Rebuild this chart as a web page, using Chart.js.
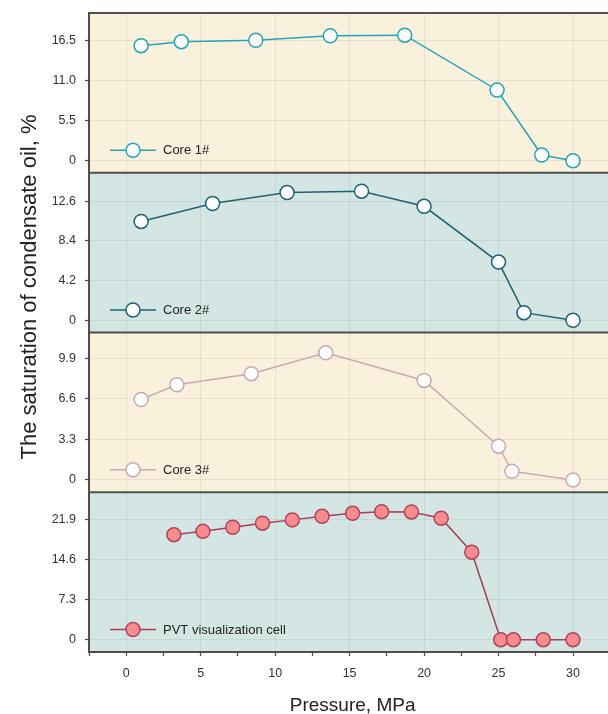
<!DOCTYPE html>
<html>
<head>
<meta charset="utf-8">
<title>Condensate oil saturation vs pressure</title>
<script src="https://cdn.jsdelivr.net/npm/chart.js@4.4.1/dist/chart.umd.min.js"></script>
<style>
  html, body { margin: 0; padding: 0; background: #ffffff; }
  #wrap { width: 608px; height: 714px; position: relative; }
</style>
</head>
<body>
<div id="wrap"><canvas id="chart"></canvas></div>
<script>
// Pressure (MPa) and condensate oil saturation (%) for each sample
const core1Pressure = [1.0, 3.7, 8.7, 13.7, 18.7, 24.9, 27.9, 30.0];
const core1Saturation = [15.85, 16.4, 16.6, 17.2, 17.3, 9.75, 0.8, 0.0];

const core2Pressure = [1.0, 5.8, 10.8, 15.8, 20.0, 25.0, 26.7, 30.0];
const core2Saturation = [10.45, 12.35, 13.5, 13.65, 12.05, 6.15, 0.8, 0.0];

const core3Pressure = [1.0, 3.4, 8.4, 13.4, 20.0, 25.0, 25.9, 30.0];
const core3Saturation = [6.55, 7.75, 8.65, 10.35, 8.1, 2.75, 0.7, 0.0];

const pvtPressure = [3.2, 5.15, 7.15, 9.15, 11.15, 13.15, 15.2, 17.15, 19.15, 21.15, 23.2, 25.15, 26.0, 28.0, 30.0];
const pvtSaturation = [19.2, 19.8, 20.55, 21.3, 21.9, 22.55, 23.1, 23.4, 23.35, 22.2, 16.0, 0.0, 0.0, 0.0, 0.0];

const seriesNames = ['Core 1#', 'Core 2#', 'Core 3#', 'PVT visualization cell'];

// Axis ticks (majors are labelled, the in-between values are minor tick marks)
const pressureTicks = [-2.5, 0, 2.5, 5, 7.5, 10, 12.5, 15, 17.5, 20, 22.5, 25, 27.5, 30];
const core1Ticks = [0, 2.75, 5.5, 8.25, 11.0, 13.75, 16.5, 19.25];
const core2Ticks = [0, 2.1, 4.2, 6.3, 8.4, 10.5, 12.6, 14.7];
const core3Ticks = [0, 1.65, 3.3, 4.95, 6.6, 8.25, 9.9, 11.55];
const pvtTicks = [0, 3.65, 7.3, 10.95, 14.6, 18.25, 21.9, 25.55];
const core1Step = 5.5, core2Step = 4.2, core3Step = 3.3, pvtStep = 7.3;

const FONT = "'Liberation Sans', Arial, sans-serif";
const AXIS_DARK = '#554b47';
const GRID_LIGHT = 'rgba(120, 110, 90, 0.13)';

function toPoints(xs, ys) {
  return xs.map((x, i) => ({ x: x, y: ys[i] }));
}

function isMajor(v, step) {
  const r = v / step;
  return Math.abs(r - Math.round(r)) < 1e-6;
}

function panelScale(ticks, step, min, max, weight, bg) {
  return {
    type: 'linear',
    position: 'left',
    stack: 'panels',
    stackWeight: 1,
    weight: weight,
    min: min,
    max: max,
    panelBackground: bg,
    afterBuildTicks: (scale) => { scale.ticks = ticks.map(v => ({ value: v })); },
    afterFit: (scale) => {
      scale.width = 89;
      scale.paddingTop = 0;
      scale.paddingBottom = 0;
    },
    border: { display: true, color: AXIS_DARK, width: 2 },
    grid: {
      drawTicks: true,
      tickLength: 4,
      tickWidth: 1.2,
      tickColor: AXIS_DARK,
      lineWidth: 1,
      color: (ctx) => (ctx.tick && isMajor(ctx.tick.value, step)) ? GRID_LIGHT : 'rgba(0,0,0,0)'
    },
    ticks: {
      padding: 9,
      color: '#333333',
      font: { family: FONT, size: 12.5 },
      callback: (v) => isMajor(v, step) ? (v === 0 ? '0' : Number(v).toFixed(1)) : ''
    }
  };
}

// Backgrounds behind each panel, separators between them, legends and axis titles
const panelPlugin = {
  id: 'panels',
  beforeDraw(chart) {
    const { ctx, chartArea } = chart;
    ctx.save();
    ['y1', 'y2', 'y3', 'y4'].forEach(id => {
      const s = chart.scales[id];
      ctx.fillStyle = s.options.panelBackground;
      ctx.fillRect(chartArea.left, s.top, chartArea.right - chartArea.left, s.bottom - s.top);
    });
    ctx.restore();
  },
  beforeDatasetsDraw(chart) {
    const { ctx, chartArea } = chart;
    ctx.save();
    ctx.strokeStyle = '#4f4f4f';
    ctx.lineWidth = 2;
    ['y1', 'y2', 'y3', 'y4'].forEach(id => {
      const s = chart.scales[id];
      ctx.beginPath();
      ctx.moveTo(chartArea.left, s.top);
      ctx.lineTo(chartArea.right, s.top);
      ctx.stroke();
    });
    ctx.restore();
  },
  afterDatasetsDraw(chart) {
    const { ctx, chartArea } = chart;
    ctx.save();
    chart.data.datasets.forEach(ds => {
      const s = chart.scales[ds.yAxisID];
      const y = s.bottom - 22.5;
      const x0 = chartArea.left + 21;
      ctx.strokeStyle = ds.borderColor;
      ctx.lineWidth = ds.borderWidth;
      ctx.beginPath();
      ctx.moveTo(x0, y);
      ctx.lineTo(x0 + 46, y);
      ctx.stroke();
      ctx.beginPath();
      ctx.arc(x0 + 23, y, ds.pointRadius, 0, Math.PI * 2);
      ctx.fillStyle = ds.pointBackgroundColor;
      ctx.fill();
      ctx.lineWidth = ds.pointBorderWidth;
      ctx.strokeStyle = ds.pointBorderColor;
      ctx.stroke();
      ctx.fillStyle = '#222222';
      ctx.font = '13px ' + FONT;
      ctx.textAlign = 'left';
      ctx.textBaseline = 'middle';
      ctx.fillText(ds.label, x0 + 53, y + 0.5);
    });
    ctx.restore();
  },
  afterDraw(chart) {
    const { ctx } = chart;
    const xs = chart.scales.x;
    ctx.save();
    ctx.fillStyle = '#222222';
    ctx.textAlign = 'center';
    ctx.textBaseline = 'middle';
    ctx.font = '19px ' + FONT;
    ctx.fillText('Pressure, MPa', (xs.getPixelForValue(0) + xs.getPixelForValue(30)) / 2 + 3, 706);
    ctx.translate(30, 287);
    ctx.rotate(-Math.PI / 2);
    ctx.font = '22px ' + FONT;
    ctx.fillText('The saturation of condensate oil, %', 0, 0);
    ctx.restore();
  }
};

function lineSeries(label, xs, ys, axis, stroke, fill, pointStroke) {
  return {
    label: label,
    data: toPoints(xs, ys),
    yAxisID: axis,
    borderColor: stroke,
    borderWidth: 1.5,
    pointRadius: 7,
    pointHoverRadius: 7,
    pointBackgroundColor: fill,
    pointBorderColor: pointStroke,
    pointBorderWidth: 1.5,
    tension: 0,
    fill: false,
    clip: false
  };
}

new Chart(document.getElementById('chart'), {
  type: 'line',
  data: {
    datasets: [
      lineSeries(seriesNames[0], core1Pressure, core1Saturation, 'y1', '#22a5b8', '#ffffff', '#22a5b8'),
      lineSeries(seriesNames[1], core2Pressure, core2Saturation, 'y2', '#1d6373', '#ffffff', '#1d6373'),
      lineSeries(seriesNames[2], core3Pressure, core3Saturation, 'y3', '#c6aab4', '#ffffff', '#c6aab4'),
      lineSeries(seriesNames[3], pvtPressure, pvtSaturation, 'y4', '#a83e5a', '#f88c8c', '#b0435f')
    ]
  },
  options: {
    responsive: true,
    maintainAspectRatio: false,
    animation: false,
    events: [],
    layout: { autoPadding: false, padding: { top: 13, right: 0, left: 0, bottom: 0 } },
    plugins: { legend: { display: false }, tooltip: { enabled: false } },
    scales: {
      x: {
        type: 'linear',
        position: 'bottom',
        min: -2.5,
        max: 32.35,
        afterBuildTicks: (scale) => { scale.ticks = pressureTicks.map(v => ({ value: v })); },
        afterFit: (scale) => {
          scale.height = 62;
          scale.paddingLeft = 0;
          scale.paddingRight = 0;
        },
        border: { display: true, color: AXIS_DARK, width: 2 },
        grid: {
          drawTicks: true,
          tickLength: 4,
          tickWidth: 1.2,
          tickColor: AXIS_DARK,
          lineWidth: 1,
          color: (ctx) => (ctx.tick && ctx.tick.value >= 0 && isMajor(ctx.tick.value, 5)) ? GRID_LIGHT : 'rgba(0,0,0,0)'
        },
        ticks: {
          padding: 10,
          maxRotation: 0,
          autoSkip: false,
          color: '#333333',
          font: { family: FONT, size: 12.5 },
          callback: (v) => (v >= 0 && isMajor(v, 5)) ? String(v) : ''
        }
      },
      y1: panelScale(core1Ticks, core1Step, -1.65, 20.35, 4, '#faf1dc'),
      y2: panelScale(core2Ticks, core2Step, -1.3, 15.6, 3, '#d4e6e4'),
      y3: panelScale(core3Ticks, core3Step, -1.0, 12.0, 2, '#faf1dc'),
      y4: panelScale(pvtTicks, pvtStep, -2.25, 26.95, 1, '#d4e6e4')
    }
  },
  plugins: [panelPlugin]
});
</script>
</body>
</html>
